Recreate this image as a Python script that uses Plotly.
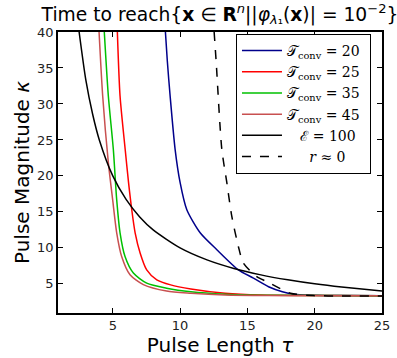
import plotly.graph_objects as go

# ---- data ----
tau_t20 = [8.91, 9.05, 9.26, 9.63, 10.0, 10.5, 11.49, 12.73, 14.33, 15.45, 16.57, 17.6, 18.4, 20.0, 22.0, 25.0]
kap_t20 = [40.0, 36.0, 31.1, 23.7, 19.1, 15.3, 12.1, 9.75, 6.95, 5.8, 4.6, 3.9, 3.56, 3.42, 3.37, 3.35]

tau_t25 = [5.34, 5.54, 5.92, 6.17, 6.41, 6.66, 7.03, 7.52, 8.27, 9.3, 10.8, 13.35, 16.0, 20.0, 25.0]
kap_t25 = [40.0, 31.1, 23.7, 19.1, 15.3, 12.1, 9.3, 6.95, 5.56, 4.86, 4.3, 3.7, 3.45, 3.38, 3.35]

tau_t35 = [4.37, 4.67, 5.04, 5.29, 5.54, 5.91, 6.53, 7.52, 9.0, 10.8, 13.35, 17.0, 25.0]
kap_t35 = [40.0, 31.1, 23.7, 16.7, 12.1, 8.8, 6.5, 5.1, 4.4, 3.9, 3.56, 3.4, 3.35]

tau_t45 = [3.98, 4.25, 4.67, 4.99, 5.29, 5.66, 6.28, 7.27, 9.0, 10.8, 13.35, 17.0, 25.0]
kap_t45 = [40.0, 31.1, 21.85, 16.7, 12.1, 8.8, 6.26, 4.9, 4.0, 3.7, 3.45, 3.37, 3.33]

tau_e100 = [2.5, 3.0, 3.5, 4.0, 5.0, 6.0, 7.0, 8.0, 10.0, 12.0, 14.0, 16.0, 18.0, 20.0, 22.0, 25.0]
kap_e100 = [40.0, 33.3, 28.6, 25.0, 20.0, 16.7, 14.3, 12.5, 10.0, 8.33, 7.14, 6.25, 5.56, 5.0, 4.55, 4.0]

tau_r0 = [12.53, 12.68, 13.1, 13.47, 13.84, 14.33, 14.7, 15.7, 16.45, 18.2, 19.9, 22.0, 25.0]
kap_r0 = [40.0, 35.9, 23.7, 19.1, 14.4, 10.2, 7.9, 6.0, 5.3, 3.7, 3.37, 3.32, 3.3]

x_ticks = [5, 10, 15, 20, 25]
y_ticks = [5, 10, 15, 20, 25, 30, 35, 40]

labels = [
    "𝒯<sub>conv</sub> = 20 ",
    "𝒯<sub>conv</sub> = 25 ",
    "𝒯<sub>conv</sub> = 35 ",
    "𝒯<sub>conv</sub> = 45 ",
    "   ℰ = 100",
    "     <i>r</i> ≈ 0",
]

series = [
    (tau_t20, kap_t20, "#00008B", "solid"),
    (tau_t25, kap_t25, "#FF0000", "solid"),
    (tau_t35, kap_t35, "#00C000", "solid"),
    (tau_t45, kap_t45, "#C85050", "solid"),
    (tau_e100, kap_e100, "#000000", "solid"),
    (tau_r0, kap_r0, "#000000", "dash"),
]

fig = go.Figure()
for (x, y, c, d), name in zip(series, labels):
    fig.add_trace(go.Scatter(
        x=x, y=y, mode="lines", name=name,
        line=dict(color=c, width=1.5, dash=d, shape="spline", smoothing=0.7),
    ))

axis_common = dict(
    showline=True, linecolor="black", linewidth=1.5, mirror="ticks",
    ticks="inside", ticklen=5, tickcolor="black", tickwidth=1,
    showgrid=False, zeroline=False, automargin=False,
    tickfont=dict(family="DejaVu Sans", size=13, color="#222"),
)

fig.update_xaxes(range=[0.93, 25], tickvals=x_ticks,
                 title=dict(text="Pulse Length <i>τ</i>", font=dict(family="DejaVu Sans", size=20, color="black"), standoff=2),
                 **axis_common)
fig.update_yaxes(range=[0.95, 40], tickvals=y_ticks,
                 title=dict(text="Pulse Magnitude <i>κ</i>", font=dict(family="DejaVu Sans", size=20, color="black"), standoff=2),
                 **axis_common)

fig.update_layout(
    width=397, height=358,
    margin=dict(l=58, r=15, t=32, b=45),
    plot_bgcolor="white", paper_bgcolor="white",
    title=dict(
        text="Time to reach{<b>x</b> ∈ <b>R</b><sup><i>n</i></sup>||<i>φ</i><sub><i>λ</i>₁</sub>(<b>x</b>)| = 10<sup>−2</sup>}",
        x=220 / 397, xanchor="center", y=1 - 14 / 358, yanchor="middle",
        font=dict(family="DejaVu Sans", size=18.7, color="black"),
    ),
    legend=dict(
        x=0.966, y=0.993, xanchor="right", yanchor="top",
        bgcolor="white", bordercolor="black", borderwidth=1,
        font=dict(family="DejaVu Serif", size=14, color="black"),
        tracegroupgap=0, itemwidth=40,
    ),
    showlegend=True,
)

fig.write_html("out.html", config={"displayModeBar": False},
               post_script="document.body.style.margin='0';")
